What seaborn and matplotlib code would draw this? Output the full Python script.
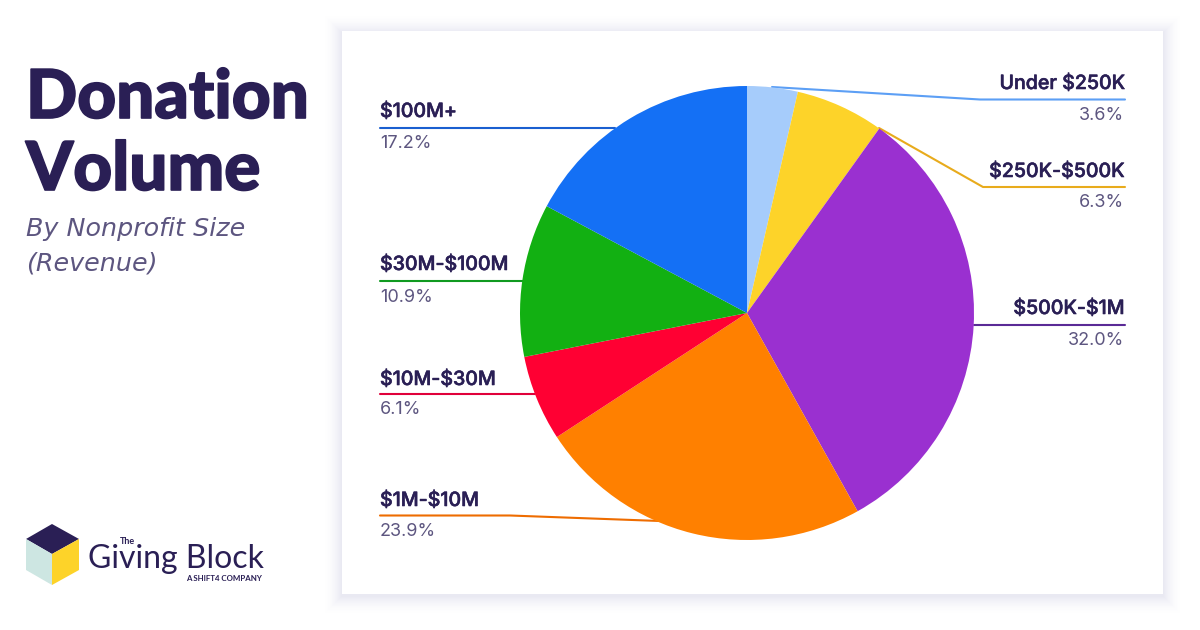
import matplotlib
matplotlib.use("Agg")
import matplotlib.pyplot as plt
import matplotlib.patheffects as pe
from matplotlib.patches import Rectangle, Polygon
import seaborn as sns

categories = ["Under $250K", "$250K-$500K", "$500K-$1M", "$1M-$10M", "$10M-$30M", "$30M-$100M", "$100M+"]
shares = [3.6, 6.3, 32.0, 23.9, 6.1, 10.9, 17.2]
slice_colors = ["#a6ccfb", "#fdd329", "#9a30d0", "#ff8000", "#ff0033", "#12b012", "#1470f5"]
line_colors = ["#5c9ff5", "#e8ab1c", "#5a2a96", "#ee6c00", "#e0003a", "#109a20", "#1a5fd0"]

sns.set_theme(style="white")
plt.rcParams["font.family"] = ["Inter", "DejaVu Sans"]
plt.rcParams["text.parse_math"] = False
NAVY = "#2a1f55"
MUTED = "#5d5680"

fig = plt.figure(figsize=(12, 6.3), dpi=100, facecolor="white")
bg = fig.add_axes([0, 0, 1, 1], zorder=0)
bg.set_xlim(0, 1200)
bg.set_ylim(630, 0)
bg.axis("off")

# card + soft shadow (opaque steps, so the falloff has no hard outer edge)
SPREAD = 20
for grow in range(SPREAD, 0, -1):
    t = ((SPREAD - grow + 1) / SPREAD) ** 2
    shade = (1 - 0.085 * t, 1 - 0.085 * t, 1 - 0.05 * t)
    bg.add_patch(Rectangle((342 - grow, 31 - grow + 2), 821 + 2 * grow, 563 + 2 * grow,
                           fc=shade, ec="none", lw=0))
bg.add_patch(Rectangle((342, 31), 821, 563, fc="white", ec="none"))

# leader lines
leaders = [
    [(772, 87), (980, 99.5), (1125, 99.5)],
    [(879, 128), (983, 187), (1125, 187)],
    [(974, 325), (1125, 325)],
    [(660, 521), (510, 515.5), (380, 515.5)],
    [(535, 394), (380, 394)],
    [(525, 281), (380, 281)],
    [(615, 128), (380, 128)],
]
for pts, col in zip(leaders, line_colors):
    bg.plot([p[0] for p in pts], [p[1] for p in pts], color=col, lw=1.5, solid_joinstyle="round")

# labels
label_x = [1125, 1125, 1125, 380, 380, 380, 380]
label_y = [89, 177, 314, 506, 385, 270, 117]
value_y = [120, 207, 345, 536, 414, 302, 148]
faux = [pe.withStroke(linewidth=0.4, foreground=NAVY)]
for name, val, x, ly, vy in zip(categories, shares, label_x, label_y, value_y):
    ha = "right" if x > 700 else "left"
    bg.text(x, ly, name, ha=ha, va="baseline", fontsize=14.1, fontweight="medium", color=NAVY, path_effects=faux)
    bg.text(x - 1 if ha == "right" else x, vy, f"{val:.1f}%", ha=ha, va="baseline", fontsize=13, color=MUTED)

# pie
cx, cy, r = 747, 313, 227
pie_ax = fig.add_axes([(cx - r) / 1200, 1 - (cy + r) / 630, 2 * r / 1200, 2 * r / 630], zorder=2)
pie_ax.pie(shares, colors=slice_colors, startangle=90, counterclock=False, radius=1,
           wedgeprops={"linewidth": 0})
pie_ax.set_xlim(-1, 1)
pie_ax.set_ylim(-1, 1)
pie_ax.patch.set_alpha(0)

# heading
heavy = [pe.withStroke(linewidth=1.2, foreground=NAVY)]
for txt, y in [("Donation", 118), ("Volume", 190)]:
    bg.text(26, y, txt, fontsize=48.5, fontweight="black", family=["Lato", "DejaVu Sans"],
            color=NAVY, va="baseline", path_effects=heavy)
for txt, y in [("By Nonprofit Size", 236), ("(Revenue)", 271)]:
    bg.text(26, y, txt, fontsize=18.3, style="italic", family=["DejaVu Sans"], color=MUTED, va="baseline")

# logo
bg.add_patch(Polygon([(26, 539), (52, 524), (79, 539), (52, 554)], fc="#2a1f55", ec="none"))
bg.add_patch(Polygon([(26, 539), (52, 554), (52, 585), (26, 570)], fc="#cde6e2", ec="none"))
bg.add_patch(Polygon([(52, 554), (79, 539), (79, 570), (52, 585)], fc="#fdd329", ec="none"))
bg.text(88, 568, "Giving Block", fontsize=23, family=["Lato", "DejaVu Sans"], color=NAVY, va="baseline")
bg.text(120, 544, "The", fontsize=6.5, family=["Lato", "DejaVu Sans"], fontweight="bold", color=NAVY, va="baseline")
bg.text(186, 581, "A SHIFT4 COMPANY", fontsize=5.7, family=["Lato", "DejaVu Sans"], fontweight="bold", color=NAVY, va="baseline")

fig.savefig("out.png", dpi=100, facecolor="white")
